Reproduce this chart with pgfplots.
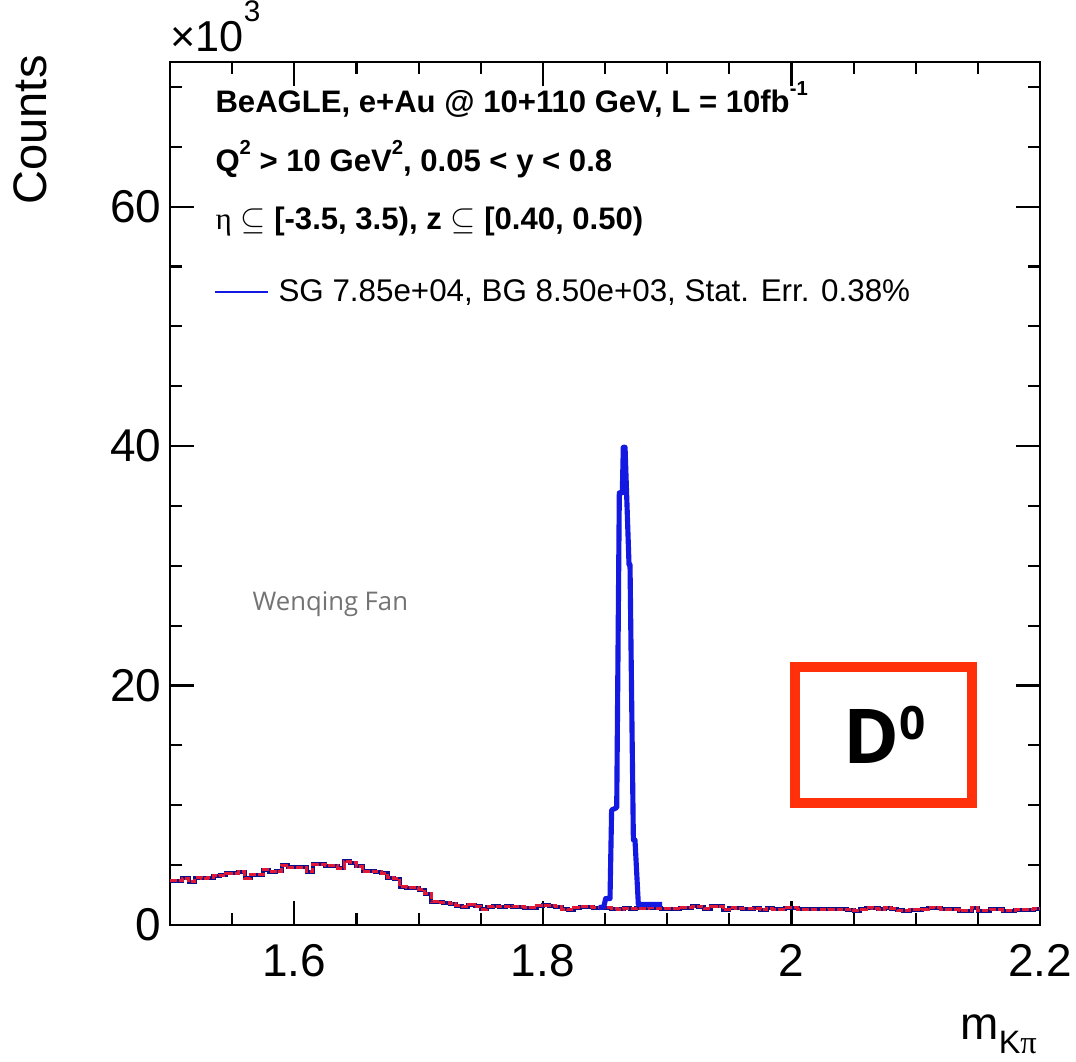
\documentclass[border=0pt]{standalone}
\usepackage{fontspec}
\setmainfont{Liberation Sans}
\newfontfamily\serifgreek{Liberation Serif}
\newfontfamily\dfont{Open Sans}
\usepackage{pgfplots}
\usepackage{pgfplotstable}
\pgfplotsset{compat=1.18}
\definecolor{bgred}{RGB}{225,25,55}
\definecolor{sgblue}{RGB}{20,25,225}
\definecolor{boxred}{RGB}{255,48,10}
\newcommand{\sups}[1]{\raisebox{0.55em}{\fontsize{7.5}{7.5}\selectfont #1}}

% background (BG) histogram, bin width 0.005, counts in units of 10^3
\pgfplotstableread{
x y
1.500 3.70
1.505 3.70
1.510 3.90
1.515 3.60
1.520 3.95
1.525 3.90
1.530 3.95
1.535 4.10
1.540 4.15
1.545 4.30
1.550 4.30
1.555 4.45
1.560 3.90
1.565 4.20
1.570 4.20
1.575 4.60
1.580 4.45
1.585 4.50
1.590 5.00
1.595 4.80
1.600 4.80
1.605 4.80
1.610 4.45
1.615 5.05
1.620 5.05
1.625 4.95
1.630 4.95
1.635 4.75
1.640 5.30
1.645 5.20
1.650 4.90
1.655 4.50
1.660 4.50
1.665 4.45
1.670 4.30
1.675 3.95
1.680 3.85
1.685 3.20
1.690 3.12
1.695 3.10
1.700 2.95
1.705 2.60
1.710 1.95
1.715 1.90
1.720 1.85
1.725 1.75
1.730 1.60
1.735 1.50
1.740 1.70
1.745 1.55
1.750 1.30
1.755 1.50
1.760 1.55
1.765 1.50
1.770 1.55
1.775 1.50
1.780 1.50
1.785 1.45
1.790 1.45
1.795 1.60
1.800 1.65
1.805 1.60
1.810 1.50
1.815 1.30
1.820 1.25
1.825 1.45
1.830 1.50
1.835 1.50
1.840 1.45
1.845 1.45
1.850 1.45
1.855 1.34
1.860 1.30
1.865 1.40
1.870 1.35
1.875 1.40
1.880 1.40
1.885 1.45
1.890 1.40
1.895 1.35
1.900 1.35
1.905 1.35
1.910 1.45
1.915 1.45
1.920 1.55
1.925 1.50
1.930 1.35
1.935 1.55
1.940 1.55
1.945 1.25
1.950 1.45
1.955 1.40
1.960 1.35
1.965 1.35
1.970 1.40
1.975 1.25
1.980 1.38
1.985 1.30
1.990 1.30
1.995 1.45
2.000 1.45
2.005 1.32
2.010 1.32
2.015 1.32
2.020 1.32
2.025 1.30
2.030 1.32
2.035 1.30
2.040 1.32
2.045 1.25
2.050 1.17
2.055 1.30
2.060 1.45
2.065 1.40
2.070 1.30
2.075 1.45
2.080 1.35
2.085 1.22
2.090 1.20
2.095 1.25
2.100 1.25
2.105 1.30
2.110 1.45
2.115 1.42
2.120 1.32
2.125 1.32
2.130 1.30
2.135 1.20
2.140 1.20
2.145 1.45
2.150 1.17
2.155 1.20
2.160 1.30
2.165 1.30
2.170 1.20
2.175 1.17
2.180 1.28
2.185 1.28
2.190 1.28
2.195 1.35
2.200 1.35
}\bgdata

\begin{document}
\begin{tikzpicture}
\begin{axis}[
  name=ax,
  scale only axis,
  width=321.9pt, height=319.3pt,
  xmin=1.5, xmax=2.2, ymin=0, ymax=72.1,
  xtick={1.6,1.8,2.0,2.2}, xticklabels={1.6,1.8,2,2.2},
  minor xtick={1.55,1.65,1.7,1.75,1.85,1.9,1.95,2.05,2.1,2.15},
  ytick={0,20,40,60}, yticklabels={0,20,40,60},
  minor ytick={5,10,15,25,30,35,45,50,55,65,70},
  xtick pos=both, ytick pos=both,
  tick align=inside,
  major tick length=8.9pt, minor tick length=4.4pt,
  every tick/.style={black, line width=0.8pt},
  axis line style={line width=0.9pt},
  ticklabel style={font=\fontsize{17}{17}\selectfont},
  xticklabel style={inner sep=0pt, yshift=-7pt},
  yticklabel style={inner sep=0pt, xshift=-3pt},
  clip=true,
]
\addplot[const plot, line width=1.5pt, sgblue!60!black] table {\bgdata};
\addplot[const plot, line width=1.1pt, bgred, dash pattern=on 2.5pt off 0.8pt] table {\bgdata};
\addplot[sharp plot, line width=1.9pt, sgblue, line join=round] coordinates {
 (1.845,1.45) (1.849,1.5) (1.8505,2.2) (1.854,2.2) (1.8553,9.6) (1.8594,9.8)
 (1.8615,36.1) (1.8639,36.1) (1.8647,39.9) (1.8661,39.9) (1.8693,30.1)
 (1.8701,30.1) (1.8728,7.1) (1.8741,7.1) (1.8768,1.7) (1.896,1.7)
};

\node[anchor=base west, inner sep=0pt, font=\bfseries\fontsize{11.5}{11.5}\selectfont]
  at (axis cs:1.5362,67.9) {BeAGLE, e+Au @ 10+110 GeV, L = 10fb\sups{-1}};
\node[anchor=base west, inner sep=0pt, font=\bfseries\fontsize{11.5}{11.5}\selectfont]
  at (axis cs:1.5362,62.96) {Q\sups{2} > 10 GeV\sups{2}, 0.05 < y < 0.8};
\node[anchor=base west, inner sep=0pt, font=\bfseries\fontsize{11.5}{11.5}\selectfont]
  at (axis cs:1.5362,58.1) {{\serifgreek\mdseries η} $\subseteq$ [-3.5, 3.5), z $\subseteq$ [0.40, 0.50)};
\draw[sgblue, line width=0.8pt] (axis cs:1.5362,52.9) -- (axis cs:1.5788,52.9);
\node[anchor=base west, inner sep=0pt, font=\fontsize{11.6}{11.6}\selectfont]
  at (axis cs:1.5869,52.1) {SG 7.85e+04, BG 8.50e+03, Stat. Err. 0.38\%};
\node[anchor=base west, inner sep=0pt, text=black!55, font=\dfont\fontsize{9.5}{9.5}\selectfont]
  at (axis cs:1.566,26.3) {Wenqing Fan};
\draw[boxred, line width=3.7pt] (axis cs:2.0028,10.2) rectangle (axis cs:2.1453,21.57);
\node[inner sep=0pt, font=\dfont\bfseries\fontsize{28}{28}\selectfont]
  at (axis cs:2.075,15.9) {D\raisebox{9pt}{\fontsize{17}{17}\selectfont 0}};
\end{axis}
\node[rotate=90, anchor=east, inner sep=0pt, font=\fontsize{17.4}{17.4}\selectfont]
  at ([xshift=-51.8pt,yshift=2.6pt]ax.north west) {Counts};
\node[anchor=base west, inner sep=0pt, font=\fontsize{16}{16}\selectfont]
  at ([yshift=3.7pt]ax.north west) {×10\raisebox{0.7em}{\fontsize{11}{11}\selectfont 3}};
\node[anchor=base east, inner sep=0pt, font=\fontsize{17}{17}\selectfont]
  at ([yshift=-42.5pt,xshift=-1pt]ax.south east) {m\raisebox{-0.3em}{\fontsize{12}{12}\selectfont K{\serifgreek π}}};
\pgfresetboundingbox
\path ([xshift=-62.9pt,yshift=-50.7pt]ax.south west) rectangle ([xshift=13.3pt,yshift=22.9pt]ax.north east);
\end{tikzpicture}
\end{document}
